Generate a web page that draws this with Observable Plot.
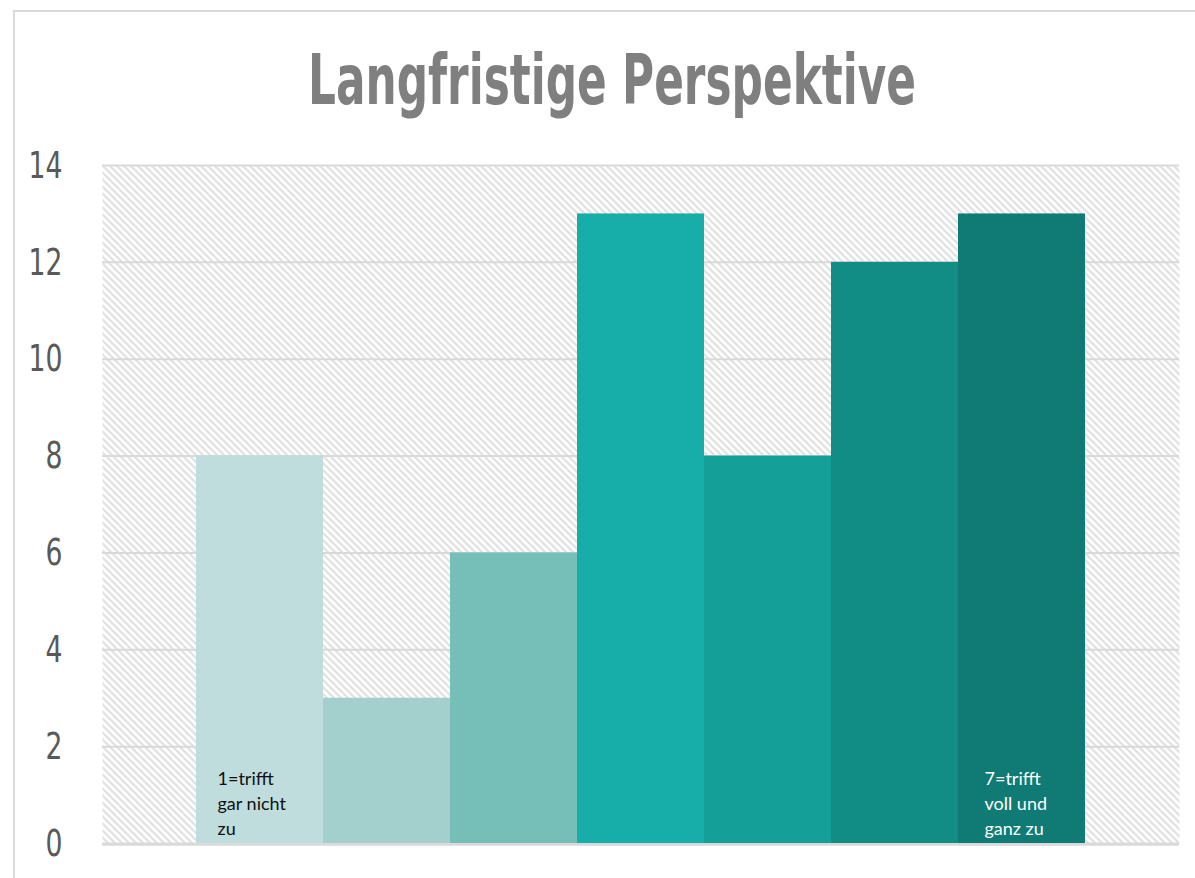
<!DOCTYPE html>
<html>
<head>
<meta charset="utf-8">
<script src="https://cdn.jsdelivr.net/npm/d3@7"></script>
<script src="https://cdn.jsdelivr.net/npm/@observablehq/plot@0.6"></script>
<style>
  html, body { margin: 0; padding: 0; background: #fff; width: 1195px; height: 878px; overflow: hidden; }
  #border { position: absolute; left: 13px; top: 10px; width: 1400px; height: 1000px; border: 2px solid #d9d9d9; box-sizing: border-box; }
  #chart { position: absolute; left: 0; top: 0; }
  #title { position: absolute; left: 0; top: 45px; width: 1224px; text-align: center; z-index: 2; }
  #title span { display: inline-block; font-family: "Liberation Sans Narrow", "DejaVu Sans Condensed", sans-serif; font-weight: bold; font-size: 70px; line-height: 70px; color: #7f7f7f; transform-origin: center; white-space: nowrap; }
</style>
</head>
<body>
<div id="border"></div>
<div id="chart"></div>
<div id="title"><span>Langfristige Perspektive</span></div>
<script>
// ---- data ----
const categories = ["1", "2", "3", "4", "5", "6", "7"];
const values = [8, 3, 6, 13, 8, 12, 13];
const yTicks = [0, 2, 4, 6, 8, 10, 12, 14];
const palette = ["#bfdddc", "#a3cfcc", "#76bfb9", "#17ada8", "#14a099", "#128d86", "#0f7b74"];
const firstLabel = "1=trifft\ngar nicht\nzu";
const lastLabel = "7=trifft\nvoll und\nganz zu";

const data = categories.map((c, i) => ({cat: c, value: values[i]}));

const plot = Plot.plot({
  width: 1195,
  height: 878,
  marginLeft: 102,
  marginRight: 16,
  marginTop: 165,
  marginBottom: 35,
  style: {
    background: "transparent",
    fontFamily: "'Liberation Sans Narrow', 'DejaVu Sans Condensed', sans-serif",
    color: "#595959",
    overflow: "visible"
  },
  x: {domain: categories, paddingInner: 0, paddingOuter: 0.74, axis: null},
  y: {domain: [0, 14], axis: null},
  color: {domain: categories, range: palette},
  marks: [
    Plot.frame({fill: "url(#hatch)", stroke: "none"}),
    Plot.gridY(yTicks, {stroke: "#d9d9d9", strokeOpacity: 1, strokeWidth: 2}),
    Plot.barY(data, {x: "cat", y: "value", fill: "cat"}),
    Plot.ruleY([0], {stroke: "#d9d9d9", strokeWidth: 2.5, dy: 1}),
    Plot.axisY(yTicks, {tickSize: 0, tickPadding: 40, fontSize: 38, label: null, anchor: "left"}),
    Plot.text([{cat: categories[0], label: firstLabel}], {
      x: "cat", y: 0, text: "label", fontFamily: "Lato, 'Open Sans', sans-serif", fontSize: 18,
      lineHeight: 1.39, lineAnchor: "top", textAnchor: "start", dx: -42.5, dy: -76, fill: "#111"
    }),
    Plot.text([{cat: categories[6], label: lastLabel}], {
      x: "cat", y: 0, text: "label", fontFamily: "Lato, 'Open Sans', sans-serif", fontSize: 18,
      lineHeight: 1.39, lineAnchor: "top", textAnchor: "start", dx: -37.5, dy: -76, fill: "#ffffff"
    })
  ]
});

// hatch pattern definition
const defs = d3.select(plot).insert("defs", ":first-child");
const pat = defs.append("pattern")
  .attr("id", "hatch")
  .attr("patternUnits", "userSpaceOnUse")
  .attr("width", 7)
  .attr("height", 7);
pat.append("rect").attr("width", 7).attr("height", 7).attr("fill", "#ffffff");
pat.append("path")
  .attr("d", "M-1,-1L8,8M-1,6L1,8M6,-1L8,1")
  .attr("stroke", "#d9d9d9")
  .attr("stroke-width", 1.8)
  .attr("fill", "none");

// condense the y tick labels
d3.select(plot).selectAll("g[aria-label='y-axis tick label'] text").each(function () {
  const t = this.getAttribute("transform") || "";
  this.setAttribute("transform", t + " scale(0.78,1)");
});

document.getElementById("chart").appendChild(plot);

// fit the title to its width in the reference
const span = document.querySelector("#title span");
const w = span.getBoundingClientRect().width;
span.style.transform = `scaleX(${608 / w})`;
</script>
</body>
</html>
